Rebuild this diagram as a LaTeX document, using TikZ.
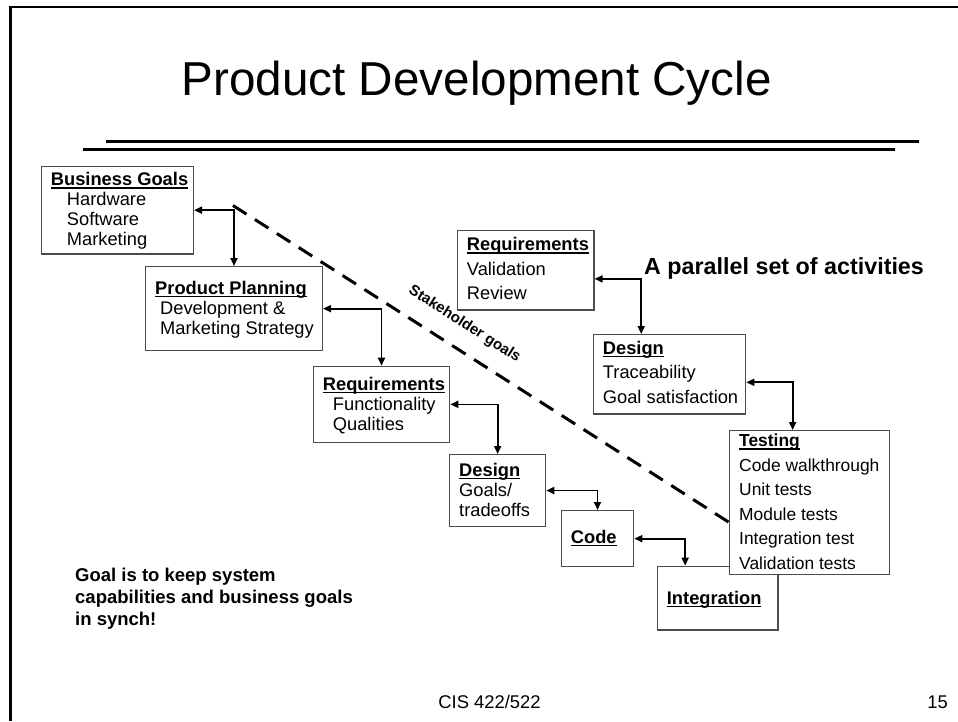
\documentclass[tikz,border=0pt]{standalone}
\usepackage{fontspec}
\setmainfont{Liberation Sans}
\usepackage{xcolor}
\usetikzlibrary{arrows.meta}

\definecolor{boxgray}{gray}{0.3}
\newsavebox{\headbox}
\newcommand{\boxhead}[1]{\sbox{\headbox}{\bfseries #1}\rlap{\rule[-3.1pt]{\wd\headbox}{1.4pt}}\usebox{\headbox}}

\tikzset{
  box/.style={draw=boxgray, line width=1.3pt, fill=white, anchor=north west, inner sep=0pt},
  boxtext/.style={anchor=base west, inner sep=0pt, font=\fontsize{18.3}{20}\selectfont},
  widetext/.style={boxtext, font=\fontsize{18.3}{24.5}\selectfont},
  link/.style={line width=1.7pt, {Triangle[length=8pt,width=7pt]}-{Triangle[length=8pt,width=7pt]}},
}

\begin{document}
\begin{tikzpicture}[x=1pt,y=-1pt]
\useasboundingbox (0,0) rectangle (958,721);

% frame and title
\draw[line width=2.3pt] (10.5,721) -- (10.5,7) -- (958,7);
\node[anchor=base, inner sep=0pt, font=\fontsize{47.6}{57}\selectfont] (title) at (476.7,95) {Product Development Cycle};
\draw[line width=2.7pt] (106,141.7) -- (919.3,141.7);
\draw[line width=2.7pt] (82.7,149.7) -- (895,149.7);

% left chain
\node[box, minimum width=152pt, minimum height=87.6pt] (bg) at (40.7,165.7) {};
\node[boxtext] (bgt) at ([shift={(10,20)}]bg.north west) {\begin{tabular}[t]{@{}l@{}}\boxhead{Business Goals}\\ \hspace*{16pt}Hardware\\ \hspace*{16pt}Software\\ \hspace*{16pt}Marketing\end{tabular}};
\node[box, minimum width=176.7pt, minimum height=84pt] (pp) at (145,266) {};
\node[boxtext] (ppt) at ([shift={(10,28.3)}]pp.north west) {\begin{tabular}[t]{@{}l@{}}\boxhead{Product Planning}\\ \hspace*{5pt}Development \&\\ \hspace*{5pt}Marketing Strategy\end{tabular}};
\node[box, minimum width=136.3pt, minimum height=76pt] (req) at (312.7,365.7) {};
\node[boxtext] (reqt) at ([shift={(10,24.3)}]req.north west) {\begin{tabular}[t]{@{}l@{}}\boxhead{Requirements}\\ \hspace*{10pt}Functionality\\ \hspace*{10pt}Qualities\end{tabular}};
\node[box, minimum width=96pt, minimum height=71.7pt] (des) at (449,454) {};
\node[boxtext] (dest) at ([shift={(10,22)}]des.north west) {\begin{tabular}[t]{@{}l@{}}\boxhead{Design}\\ Goals/\\ tradeoffs\end{tabular}};
\node[box, minimum width=72.3pt, minimum height=56pt] (code) at (560.7,510) {};
\node[boxtext] (codet) at ([shift={(10,33.3)}]code.north west) {\boxhead{Code}};
\node[box, minimum width=120.6pt, minimum height=63.6pt] (integ) at (656.7,565.7) {};
\node[boxtext] (integt) at ([shift={(10,38.3)}]integ.north west) {\boxhead{Integration}};

% parallel chain
\node[box, minimum width=136.6pt, minimum height=79.3pt] (reqv) at (456.7,230) {};
\node[widetext] (reqvt) at ([shift={(10,20.7)}]reqv.north west) {\begin{tabular}[t]{@{}l@{}}\boxhead{Requirements}\\ Validation\\ Review\end{tabular}};
\node[box, minimum width=152.3pt, minimum height=79.3pt] (desv) at (592.7,334) {};
\node[widetext] (desvt) at ([shift={(10,20.3)}]desv.north west) {\begin{tabular}[t]{@{}l@{}}\boxhead{Design}\\ Traceability\\ Goal satisfaction\end{tabular}};
\node[box, minimum width=160pt, minimum height=144pt] (test) at (729,430) {};
\node[widetext, font=\fontsize{17.4}{24.5}\selectfont] (testt) at ([shift={(10,16.7)}]test.north west) {\begin{tabular}[t]{@{}l@{}}\boxhead{Testing}\\ Code walkthrough\\ Unit tests\\ Module tests\\ Integration test\\ Validation tests\end{tabular}};

% stakeholder line
\coordinate (sg) at (233,205.5);
\draw[line width=3pt, dash pattern=on 16pt off 10pt] (sg) -- ([yshift=-19.7pt]test.west)
  node[pos=0.44, sloped, above=16pt, inner sep=0pt, font=\bfseries\fontsize{15}{18}\selectfont] (stake) {Stakeholder goals};

\draw[link] (bg.east) -| (pp.north);
\draw[link] (pp.east) -| (req.north);
\draw[link] (req.east) -| (des.north);
\draw[link] (des.east) -| (code.north);
\draw[link] (code.east) -| ([xshift=-32.5pt]integ.north);
\draw[link] ([yshift=-8.6pt]reqv.east) -| ([xshift=-28.3pt]desv.north);
\draw[link] ([yshift=-8pt]desv.east) -| ([xshift=-17pt]test.north);

\node[anchor=base west, inner sep=0pt, font=\bfseries\fontsize{23.3}{28}\selectfont] (parallel) at (644,274) {A parallel set of activities};
\node[anchor=base west, inner sep=0pt, font=\bfseries\fontsize{18.5}{22.3}\selectfont] (note) at (75,581) {\begin{tabular}[t]{@{}l@{}}Goal is to keep system\\capabilities and business goals\\in synch!\end{tabular}};
\node[anchor=base, inner sep=0pt, font=\fontsize{18.4}{22}\selectfont] (foot) at (489.5,708.3) {CIS 422/522};
\node[anchor=base east, inner sep=0pt, font=\fontsize{18.4}{22}\selectfont] (pagenum) at (948,708.3) {15};
\end{tikzpicture}
\end{document}
